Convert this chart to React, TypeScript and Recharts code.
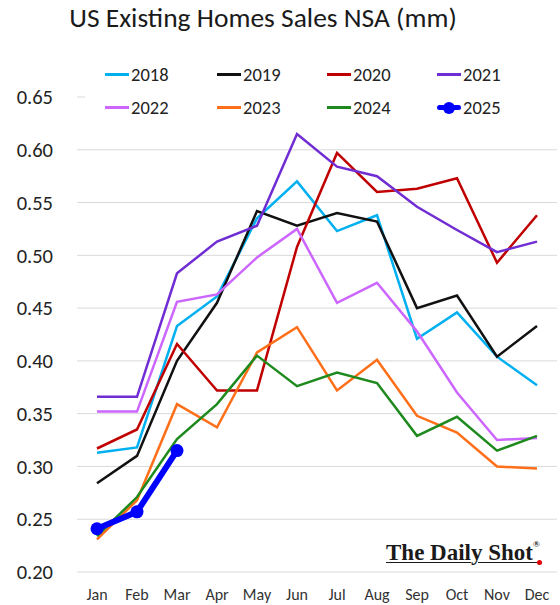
import { CartesianGrid, Legend, Line, LineChart, XAxis, YAxis } from "recharts";

const months = ["Jan", "Feb", "Mar", "Apr", "May", "Jun", "Jul", "Aug", "Sep", "Oct", "Nov", "Dec"];

// existing home sales, not seasonally adjusted, millions
const sales2018 = [0.313, 0.318, 0.433, 0.461, 0.535, 0.57, 0.523, 0.538, 0.421, 0.446, 0.404, 0.377];
const sales2019 = [0.284, 0.31, 0.4, 0.455, 0.542, 0.528, 0.54, 0.532, 0.45, 0.462, 0.404, 0.433];
const sales2020 = [0.317, 0.335, 0.416, 0.372, 0.372, 0.508, 0.597, 0.56, 0.563, 0.573, 0.493, 0.538];
const sales2021 = [0.366, 0.366, 0.483, 0.513, 0.528, 0.615, 0.584, 0.575, 0.546, 0.524, 0.503, 0.513];
const sales2022 = [0.352, 0.352, 0.456, 0.463, 0.498, 0.525, 0.455, 0.474, 0.428, 0.37, 0.325, 0.327];
const sales2023 = [0.231, 0.268, 0.359, 0.337, 0.408, 0.432, 0.372, 0.401, 0.348, 0.332, 0.3, 0.298];
const sales2024 = [0.234, 0.271, 0.326, 0.359, 0.405, 0.376, 0.389, 0.379, 0.329, 0.347, 0.315, 0.329];
const sales2025 = [0.241, 0.257, 0.315];

const yTicks = [0.2, 0.25, 0.3, 0.35, 0.4, 0.45, 0.5, 0.55, 0.6, 0.65];

const series = [
  { key: "2018", values: sales2018, color: "#00B0F0" },
  { key: "2019", values: sales2019, color: "#111111" },
  { key: "2020", values: sales2020, color: "#C00000" },
  { key: "2021", values: sales2021, color: "#6F2DD3" },
  { key: "2022", values: sales2022, color: "#CC66FF" },
  { key: "2023", values: sales2023, color: "#FF6F1A" },
  { key: "2024", values: sales2024, color: "#1E8A1E" },
  { key: "2025", values: sales2025, color: "#0000FF" },
];

const data = months.map((month, i) => {
  const row: Record<string, string | number> = { month };
  for (const s of series) {
    if (s.values[i] !== undefined) row[s.key] = s.values[i];
  }
  return row;
});

const FONT = "Calibri, Carlito, Lato, sans-serif";

function YearLegend() {
  return (
    <div
      style={{
        display: "grid",
        gridTemplateColumns: "112px 110px 110px 110px",
        gridAutoRows: "33px",
        paddingLeft: 20,
        background: "#fff",
        fontFamily: FONT,
        fontSize: 18.5,
        color: "#222",
      }}
    >
      {series.map((s) => {
        const current = s.key === "2025";
        return (
          <div key={s.key} style={{ display: "flex", alignItems: "center" }}>
            <span
              style={{
                position: "relative",
                width: 24,
                height: current ? 5 : 3,
                background: s.color,
                marginRight: 2,
                borderRadius: current ? 3 : 0,
              }}
            >
              {current && (
                <span
                  style={{
                    position: "absolute",
                    left: 6,
                    top: -3.5,
                    width: 12,
                    height: 12,
                    borderRadius: "50%",
                    background: s.color,
                  }}
                />
              )}
            </span>
            {s.key}
          </div>
        );
      })}
    </div>
  );
}

export default function App() {
  return (
    <div
      style={{
        position: "absolute",
        left: 0,
        top: 0,
        width: 560,
        height: 605,
        background: "#fff",
        fontFamily: FONT,
      }}
    >
      <div
        style={{
          position: "absolute",
          top: 3,
          left: 0,
          width: 526,
          textAlign: "center",
          fontSize: 27.5,
          lineHeight: "30px",
          color: "#1a1a1a",
          whiteSpace: "nowrap",
        }}
      >
        US Existing Homes Sales NSA (mm)
      </div>
      <LineChart
        width={560}
        height={605}
        data={data}
        margin={{ top: 97, right: 3, left: 0, bottom: 0 }}
      >
        <CartesianGrid stroke="#D9D9D9" vertical={false} />
        <XAxis
          dataKey="month"
          height={33}
          padding={{ left: 20, right: 20 }}
          axisLine={false}
          tickLine={false}
          tickMargin={11}
          interval={0}
          tick={{ fill: "#333", fontSize: 16, fontFamily: FONT }}
        />
        <YAxis
          width={77}
          domain={[0.2, 0.65]}
          ticks={yTicks}
          axisLine={false}
          tickLine={false}
          tickMargin={18}
          tickFormatter={(v: number) => v.toFixed(2)}
          tick={{ fill: "#222", fontSize: 20.5, fontFamily: FONT }}
        />
        <Legend
          layout="horizontal"
          verticalAlign="middle"
          align="center"
          content={() => <YearLegend />}
          wrapperStyle={{ top: 58, left: 85, width: 472, height: 66 }}
        />
        {series.map((s) => {
          const current = s.key === "2025";
          return (
            <Line
              key={s.key}
              type="linear"
              dataKey={s.key}
              name={s.key}
              stroke={s.color}
              strokeWidth={current ? 6 : 2.5}
              dot={current ? { r: 6.5, fill: s.color, stroke: s.color, strokeWidth: 0 } : false}
              activeDot={false}
              connectNulls={false}
              isAnimationActive={false}
            />
          );
        })}
      </LineChart>
      <div
        style={{
          position: "absolute",
          left: 386,
          top: 534,
          fontFamily: "'Liberation Serif', serif",
          fontWeight: 700,
          fontSize: 23,
          lineHeight: "28px",
          color: "#1a1a1a",
          textDecoration: "underline",
          textDecorationThickness: 1,
          textUnderlineOffset: 2,
          whiteSpace: "nowrap",
        }}
      >
        The Daily Shot
        <sup style={{ fontSize: 9, position: "relative", top: -4 }}>®</sup>
      </div>
      <div
        style={{
          position: "absolute",
          left: 536.5,
          top: 559.5,
          width: 5,
          height: 5,
          borderRadius: "50%",
          background: "#E00000",
        }}
      />
    </div>
  );
}
